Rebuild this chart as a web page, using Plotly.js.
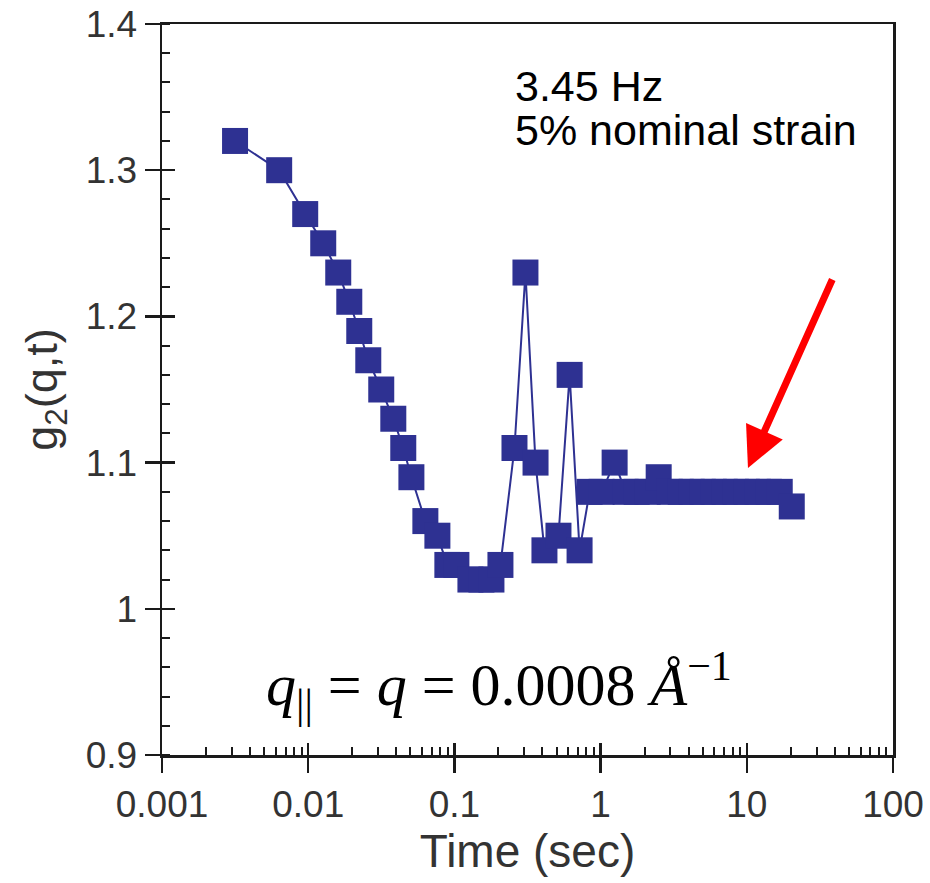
<!DOCTYPE html>
<html>
<head>
<meta charset="utf-8">
<script src="https://cdn.plot.ly/plotly-3.0.1.min.js"></script>
<style>
  html, body { margin: 0; padding: 0; background: #ffffff; }
  #chart { width: 930px; height: 883px; }
</style>
</head>
<body>
<div id="chart"></div>
<script>
// Delay time (sec)
const timeSec = [
  0.00316, 0.00633, 0.00954, 0.01267, 0.01605, 0.0191, 0.02235, 0.02576, 0.0316, 0.0382,
  0.0447, 0.0508, 0.0633, 0.0765, 0.0895, 0.1032, 0.1287, 0.1531, 0.1792, 0.2065,
  0.2576, 0.3062, 0.3589, 0.413, 0.515, 0.614, 0.718,
  0.841, 1.016, 1.247, 1.483, 1.765, 2.099, 2.496, 2.972, 3.532, 4.199,
  5.0, 5.94, 7.06, 8.41, 10.0, 11.9, 14.15, 16.8, 20.3
];
// Intensity autocorrelation g2(q,t)
const g2 = [
  1.32, 1.30, 1.27, 1.25, 1.23, 1.21, 1.19, 1.17, 1.15, 1.13,
  1.11, 1.09, 1.06, 1.05, 1.03, 1.03, 1.02, 1.02, 1.02, 1.03,
  1.11, 1.23, 1.10, 1.04, 1.05, 1.16, 1.04,
  1.08, 1.08, 1.10, 1.08, 1.08, 1.08, 1.09, 1.08, 1.08, 1.08,
  1.08, 1.08, 1.08, 1.08, 1.08, 1.08, 1.08, 1.08, 1.07
];
const xMajorTicks = [0.001, 0.01, 0.1, 1, 10, 100];
const xMajorLabels = ["0.001", "0.01", "0.1", "1", "10", "100"];
const xMinorTicks = [];
[0.001, 0.01, 0.1, 1, 10].forEach(d => { for (let k = 2; k <= 9; k++) xMinorTicks.push(d * k); });
const yMajorTicks = [0.9, 1.0, 1.1, 1.2, 1.3, 1.4];
const yMajorLabels = ["0.9", "1", "1.1", "1.2", "1.3", "1.4"];

const markColor = '#2e3192';
const axisColor = '#1a1a1a';
const labelColor = '#333333';

const trace = {
  x: timeSec,
  y: g2,
  type: 'scatter',
  mode: 'lines+markers',
  line: { color: markColor, width: 2 },
  marker: { symbol: 'square', size: 26, color: markColor, line: { width: 0 } },
  showlegend: false,
  hoverinfo: 'x+y'
};
// transparent copy so that the overlay axes (inner half of major ticks) are drawn
const ghost = {
  x: timeSec,
  y: g2,
  type: 'scatter',
  mode: 'markers',
  xaxis: 'x2',
  yaxis: 'y2',
  marker: { size: 1, color: 'rgba(0,0,0,0)' },
  showlegend: false,
  hoverinfo: 'skip'
};

const tickFont = { family: 'Liberation Sans, Arial, sans-serif', size: 37, color: labelColor };

const layout = {
  width: 930,
  height: 883,
  margin: { l: 162, r: 37, t: 24, b: 128 },
  paper_bgcolor: '#ffffff',
  plot_bgcolor: '#ffffff',
  showlegend: false,
  xaxis: {
    type: 'log',
    range: [-3, 2],
    showgrid: false,
    zeroline: false,
    showline: true,
    linecolor: axisColor,
    linewidth: 2.5,
    mirror: true,
    ticks: 'outside',
    ticklen: 15,
    tickwidth: 2.5,
    tickcolor: axisColor,
    tickmode: 'array',
    tickvals: xMajorTicks,
    ticktext: xMajorLabels,
    tickfont: tickFont,
    minor: { ticks: 'inside', ticklen: 8, tickwidth: 2, tickcolor: axisColor, tickmode: 'array', tickvals: xMinorTicks, showgrid: false },
    title: { text: 'Time (sec)', font: { family: 'Liberation Sans, Arial, sans-serif', size: 46, color: labelColor }, standoff: 10 }
  },
  yaxis: {
    range: [0.9, 1.4],
    showgrid: false,
    zeroline: false,
    showline: true,
    linecolor: axisColor,
    linewidth: 2.5,
    mirror: true,
    ticks: 'outside',
    ticklen: 15,
    tickwidth: 2.5,
    tickcolor: axisColor,
    tickmode: 'array',
    tickvals: yMajorTicks,
    ticktext: yMajorLabels,
    tickfont: tickFont,
    minor: { ticks: 'inside', ticklen: 8, tickwidth: 2, tickcolor: axisColor, dtick: 0.02, tick0: 0.9, showgrid: false },
    title: { text: 'g<sub>2</sub>(q,t)', font: { family: 'Liberation Sans, Arial, sans-serif', size: 45, color: labelColor }, standoff: 14 }
  },
  xaxis2: {
    type: 'log',
    range: [-3, 2],
    overlaying: 'x',
    anchor: 'y2',
    side: 'bottom',
    showgrid: false,
    zeroline: false,
    showline: false,
    ticks: 'inside',
    ticklen: 12,
    tickwidth: 2.5,
    tickcolor: axisColor,
    tickmode: 'array',
    tickvals: xMajorTicks,
    showticklabels: false
  },
  yaxis2: {
    range: [0.9, 1.4],
    overlaying: 'y',
    anchor: 'x2',
    side: 'left',
    showgrid: false,
    zeroline: false,
    showline: false,
    ticks: 'inside',
    ticklen: 13,
    tickwidth: 2.5,
    tickcolor: axisColor,
    tickmode: 'array',
    tickvals: yMajorTicks,
    showticklabels: false
  },
  annotations: [
    {
      xref: 'paper', yref: 'paper', x: 0.480, y: 0.915,
      xanchor: 'left', yanchor: 'middle', showarrow: false,
      text: '3.45 Hz',
      font: { family: 'Liberation Sans, Arial, sans-serif', size: 43, color: '#000000' }
    },
    {
      xref: 'paper', yref: 'paper', x: 0.480, y: 0.855,
      xanchor: 'left', yanchor: 'middle', showarrow: false,
      text: '5% nominal strain',
      font: { family: 'Liberation Sans, Arial, sans-serif', size: 43, color: '#000000' }
    },
    {
      xref: 'paper', yref: 'paper', x: 0.461, y: 0.096,
      xanchor: 'center', yanchor: 'middle', showarrow: false,
      text: '<i>q</i><sub>||</sub> = <i>q</i> = 0.0008 <i>Å</i><sup>−1</sup>',
      font: { family: 'Liberation Serif, Times New Roman, serif', size: 60, color: '#000000' }
    },
    {
      xref: 'paper', yref: 'paper', x: 0.8016, y: 0.3926,
      ax: 85, ay: -190, axref: 'pixel', ayref: 'pixel',
      showarrow: true, text: '',
      arrowcolor: '#ff0000', arrowwidth: 7, arrowhead: 2, arrowsize: 1.15
    }
  ]
};

Plotly.newPlot('chart', [trace, ghost], layout, { displayModeBar: false, staticPlot: true });
</script>
</body>
</html>
